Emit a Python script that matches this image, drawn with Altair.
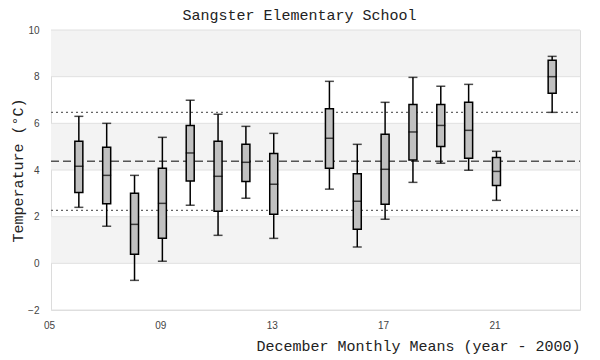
import altair as alt
import pandas as pd

# ---- data ----
years  = [6, 7, 8, 9, 10, 11, 12, 13, 15, 16, 17, 18, 19, 20, 21, 23]
low    = [2.40, 1.59, -0.73, 0.09, 2.49, 1.20, 2.79, 1.07, 3.18, 0.70, 1.89, 3.47, 4.29, 3.99, 2.70, 6.47]
q1     = [3.04, 2.55, 0.39, 1.07, 3.53, 2.23, 3.51, 2.10, 4.07, 1.46, 2.53, 4.43, 5.01, 4.50, 3.34, 7.29]
median = [4.16, 3.77, 1.67, 2.57, 4.73, 3.73, 4.33, 3.39, 5.36, 2.66, 4.03, 5.63, 5.91, 5.70, 3.94, 8.00]
q3     = [5.23, 4.97, 3.00, 4.07, 5.91, 5.23, 5.10, 4.71, 6.63, 3.84, 5.53, 6.81, 6.81, 6.90, 4.54, 8.70]
high   = [6.30, 6.00, 3.77, 5.40, 6.99, 6.39, 5.87, 5.57, 7.80, 5.10, 6.90, 7.97, 7.59, 7.67, 4.80, 8.87]

mean_line = [4.37]
sd_lines = [6.47, 2.27]

band_lo = [0, 4, 8]
band_hi = [2, 6, 10]

x_domain = [5, 24]
y_domain = [-2, 10]
x_ticks = [5, 9, 13, 17, 21]
y_ticks = [-2, 0, 2, 4, 6, 8, 10]

MONO = "Liberation Mono"

box_df = pd.DataFrame(dict(year=years, low=low, q1=q1, median=median, q3=q3, high=high))
band_df = pd.DataFrame(dict(lo=band_lo, hi=band_hi, x0=x_domain[0], x1=x_domain[1]))
mean_df = pd.DataFrame(dict(v=mean_line, x0=x_domain[0], x1=x_domain[1]))
sd_df = pd.DataFrame(dict(v=sd_lines, x0=x_domain[0], x1=x_domain[1]))
grid_df = pd.DataFrame(dict(v=y_ticks, x0=x_domain[0], x1=x_domain[1]))

X_TITLE = "December Monthly Means (year - 2000)"
Y_TITLE = "Temperature (°C)"


def X(field):
    return alt.X(field, type="quantitative",
                 scale=alt.Scale(domain=x_domain, nice=False, zero=False, padding=0),
                 axis=alt.Axis(values=x_ticks, format="02d", title=X_TITLE))


def Y(field):
    return alt.Y(field, type="quantitative",
                 scale=alt.Scale(domain=y_domain, nice=False, zero=False, padding=0),
                 axis=alt.Axis(values=y_ticks, title=Y_TITLE))


bands = alt.Chart(band_df).mark_rect(color="#f3f3f3").encode(
    x=X("x0"), x2="x1", y=Y("lo"), y2="hi")

grid = alt.Chart(grid_df).mark_rule(
    color="#e0e0e0", strokeWidth=1).encode(x=X("x0"), x2="x1", y=Y("v"))

mean_rule = alt.Chart(mean_df).mark_rule(
    color="#555", strokeWidth=1.5, strokeDash=[8, 4]).encode(x=X("x0"), x2="x1", y=Y("v"))

sd_rule = alt.Chart(sd_df).mark_rule(
    color="#666", strokeWidth=1.2, strokeDash=[2, 3]).encode(x=X("x0"), x2="x1", y=Y("v"))

base = alt.Chart(box_df)
whisker = base.mark_rule(color="black", strokeWidth=1.5).encode(
    x=X("year"), y=Y("low"), y2="high")
box = base.mark_bar(fill="#c0c0c0", stroke="black", strokeWidth=1.5, size=8).encode(
    x=X("year"), y=Y("q1"), y2="q3")
med = base.mark_tick(orient="horizontal", color="black", size=9, thickness=1.5).encode(
    x=X("year"), y=Y("median"))
cap_lo = base.mark_tick(orient="horizontal", color="black", size=9, thickness=1.5).encode(
    x=X("year"), y=Y("low"))
cap_hi = base.mark_tick(orient="horizontal", color="black", size=9, thickness=1.5).encode(
    x=X("year"), y=Y("high"))

chart = alt.layer(bands, grid, mean_rule, sd_rule, whisker, box, med, cap_lo, cap_hi).properties(
    width=529, height=280,
    title=alt.TitleParams("Sangster Elementary School", font=MONO, fontSize=15,
                          fontWeight="normal", color="#222", offset=2, dx=-16),
    autosize=alt.AutoSizeParams(type="none"),
    padding={"left": 43, "top": 22, "right": 12, "bottom": 50},
).configure_view(
    stroke="#dcdcdc", strokeWidth=1
).configure_axis(
    grid=False, ticks=False, tickSize=0, domain=False,
    labelColor="#444", labelFontSize=10, labelFlush=False,
    titleFont=MONO, titleFontSize=15, titleFontWeight="normal", titleColor="#222",
).configure_axisX(
    labelPadding=10, labelOffset=-2, titleAnchor="end", titlePadding=8,
).configure_axisY(
    labelPadding=12, titlePadding=2,
)

chart.save("out.html", embed_options={"renderer": "svg", "actions": False})
